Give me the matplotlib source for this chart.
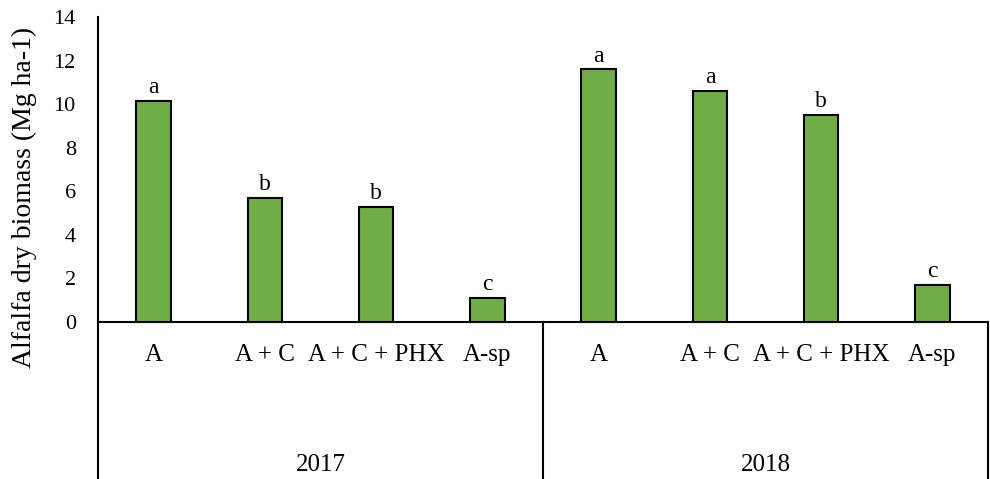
import numpy as np
import matplotlib
matplotlib.use("Agg")
import matplotlib.pyplot as plt

plt.rcParams['font.family'] = ['Liberation Serif', 'DejaVu Serif']

years = ['2017', '2018']
treatments = ['A', 'A + C', 'A + C + PHX', 'A-sp']
biomass_2017 = [10.15, 5.7, 5.3, 1.1]
biomass_2018 = [11.6, 10.6, 9.5, 1.7]
letters_2017 = ['a', 'b', 'b', 'c']
letters_2018 = ['a', 'a', 'b', 'c']

values = biomass_2017 + biomass_2018
letters = letters_2017 + letters_2018
x = np.arange(len(values))

fig = plt.figure(figsize=(9.9, 4.79), dpi=100)
ax = fig.add_axes([0.099, 0.3278, 0.899, 0.6367])

ax.bar(x, values, width=0.31, color='#70AD47', edgecolor='black', linewidth=1.5, zorder=3)
for xi, v, l in zip(x, values, letters):
    ax.text(xi, v + 0.12, l, ha='center', va='bottom', fontsize=17)

ax.set_xlim(-0.5, len(values) - 0.5)
ax.set_ylim(0, 14)
ax.set_yticks(np.arange(0, 15, 2))
ax.tick_params(axis='y', length=0, labelsize=16, pad=16)
ax.set_xticks([])
ax.spines['top'].set_visible(False)
ax.spines['right'].set_visible(False)
for s in ['left', 'bottom']:
    ax.spines[s].set_linewidth(1.5)
ax.set_ylabel('Alfalfa dry biomass (Mg ha-1)', fontsize=20)
ax.yaxis.set_label_coords(-0.0685, 0.407)

# multi-level category axis below the plot
trans = ax.get_xaxis_transform()
bottom = -0.515
for i, t in enumerate(treatments * len(years)):
    ax.text(i, -0.108, t, transform=trans, ha='center', va='center', fontsize=18)
ngroup = len(treatments)
for j, yr in enumerate(years):
    ax.text(j * ngroup + (ngroup - 1) / 2, -0.469, yr, transform=trans,
            ha='center', va='center', fontsize=18)
for xb in [-0.5, ngroup - 0.5, len(values) - 0.5]:
    ax.plot([xb, xb], [0, bottom], transform=trans, color='black', lw=1.5, clip_on=False)

fig.savefig('out.png', dpi=100)
